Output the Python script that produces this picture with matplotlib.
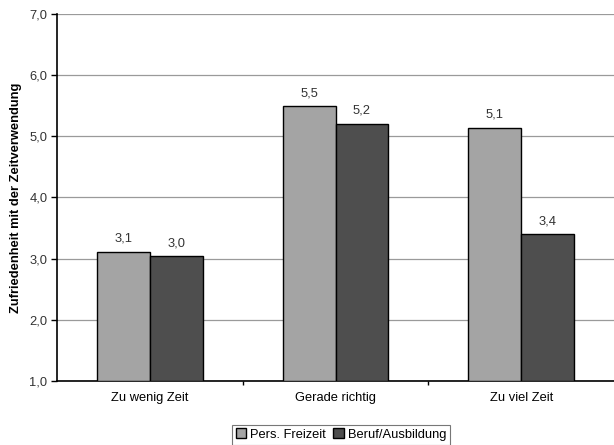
import numpy as np
import matplotlib
matplotlib.use("Agg")
import matplotlib.pyplot as plt

matplotlib.rcParams['font.family'] = ['Liberation Sans', 'DejaVu Sans']
matplotlib.rcParams['font.size'] = 9.3

categories = ["Zu wenig Zeit", "Gerade richtig", "Zu viel Zeit"]
freizeit = [3.11, 5.49, 5.14]
beruf = [3.04, 5.20, 3.40]
series_names = ["Pers. Freizeit", "Beruf/Ausbildung"]
y_ticks = [1.0, 2.0, 3.0, 4.0, 5.0, 6.0, 7.0]

light_clr = "#a4a4a4"
dark_clr = "#4e4e4e"
txt_clr = "#333333"


def fmt(v):
    return f"{v:.1f}".replace(".", ",")


def main():
    fig = plt.figure(figsize=(6.14, 4.45), dpi=100)
    ax = fig.add_axes([0.093, 0.144, 0.907, 0.825])

    x = np.arange(len(categories))
    w = 0.285
    b1 = ax.bar(x - w / 2, [v - 1 for v in freizeit], w, bottom=1, color=light_clr,
                edgecolor="black", linewidth=1.0, label=series_names[0], zorder=3)
    b2 = ax.bar(x + w / 2, [v - 1 for v in beruf], w, bottom=1, color=dark_clr,
                edgecolor="black", linewidth=1.0, label=series_names[1], zorder=3)
    ax.bar_label(b1, labels=[fmt(v) for v in freizeit], padding=5, color=txt_clr)
    ax.bar_label(b2, labels=[fmt(v) for v in beruf], padding=5, color=txt_clr)

    ax.set_xlim(-0.5, 2.5)
    ax.set_ylim(1.0, 7.0)
    ax.set_yticks(y_ticks)
    ax.set_yticklabels([fmt(v) for v in y_ticks], color=txt_clr)
    ax.set_xticks(x)
    ax.set_xticklabels(categories, color="black")
    ax.tick_params(axis="x", length=0, pad=8)
    ax.set_xticks([0.5, 1.5], minor=True)
    ax.tick_params(axis="x", which="minor", length=3, width=1)
    ax.tick_params(axis="y", length=4, width=1, direction="out", pad=3)
    ax.yaxis.grid(True, color="#9a9a9a", linewidth=0.9, zorder=0)
    ax.set_axisbelow(True)

    for s in ["top", "right"]:
        ax.spines[s].set_visible(False)
    ax.spines["left"].set_linewidth(1.2)
    ax.spines["bottom"].set_linewidth(1.2)

    ax.set_ylabel("Zufriedenheit mit der Zeitverwendung", fontweight="bold", labelpad=5)

    leg = fig.legend(loc="lower center", bbox_to_anchor=(0.555, -0.014), ncol=2, frameon=True,
                     fancybox=False, edgecolor="#555555", handlelength=0.8, handleheight=0.8,
                     handletextpad=0.3, columnspacing=0.6, borderpad=0.3)
    leg.get_frame().set_linewidth(0.8)

    fig.savefig("out.png", dpi=100, facecolor="white")


if __name__ == '__main__':
    main()
